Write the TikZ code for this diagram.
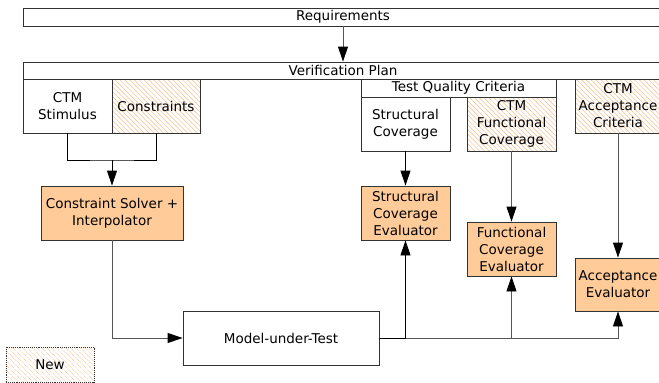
\documentclass[tikz,border=0pt]{standalone}
\usepackage{fontspec}
\setmainfont{DejaVu Sans}
\usetikzlibrary{arrows.meta,patterns.meta}
\definecolor{peach}{HTML}{FFCC99}
\definecolor{hatch}{HTML}{F4BE8C}
\definecolor{edge}{HTML}{333333}
\definecolor{wire}{HTML}{555555}
\tikzset{
  box/.style={draw=edge, line width=0.9pt, inner sep=0pt, align=center,
    font=\fontsize{13.5}{17}\selectfont},
  newbox/.style={box, pattern={Lines[angle=-45,distance=3.4pt,line width=0.5pt]},
    pattern color=hatch},
  toolbox/.style={box, fill=peach},
  conn/.style={draw=wire, line width=0.9pt},
  arr/.style={conn, -{Triangle[length=15pt,width=10pt,color=black]}},
}
\begin{document}
\begin{tikzpicture}[x=1pt,y=-1pt]
\fill[white] (0,0) rectangle (659,383);
\useasboundingbox (0,0) rectangle (659,383);
\clip (0,0) rectangle (659,383);

% plan bars
\node[box, minimum width=640, minimum height=18] (req) at (343,17) {Requirements};
\node[box, minimum width=640, minimum height=17] (vp) at (343,70.5) {Verification Plan};

% stimulus side
\node[box, minimum width=89, minimum height=54] (stim) at (67.5,106) {CTM\\Stimulus};
\node[newbox, minimum width=88, minimum height=54] (cons) at (156,106) {Constraints};
\node[toolbox, minimum width=142, minimum height=54] (solver) at (112,213) {Constraint Solver +\\Interpolator};
\node[box, minimum width=196, minimum height=54] (mut) at (281,338) {Model-under-Test};

% quality criteria
\node[box, minimum width=195, minimum height=18] (tqc) at (458.5,88) {Test Quality Criteria};
\node[box, minimum width=89, minimum height=54] (sc) at (405.5,124) {Structural\\Coverage};
\node[newbox, minimum width=89, minimum height=54] (fc) at (511.5,124) {CTM\\Functional\\Coverage};
\node[newbox, minimum width=86, minimum height=54] (ac) at (618,106) {CTM\\Acceptance\\Criteria};

% evaluators
\node[toolbox, minimum width=89, minimum height=54] (sce) at (405.5,213) {Structural\\Coverage\\Evaluator};
\node[toolbox, minimum width=89, minimum height=54] (fce) at (511.5,249) {Functional\\Coverage\\Evaluator};
\node[toolbox, minimum width=86, minimum height=53] (ae) at (618,284.5) {Acceptance\\Evaluator};

% legend
\node[newbox, draw=edge, densely dotted, minimum width=88, minimum height=35] (legend) at (50,364.5) {New};

% connectors
\draw[arr] (req.south) -- (vp.north);
\coordinate (mrg) at (112,160);
\draw[conn, draw=black] (stim.south) |- (mrg) -| (cons.south);
\draw[arr, draw=black] (mrg) -- (solver.north);
\draw[arr] (solver.south) |- (mut.west);
\draw[arr, draw=black] (sc.south) -- (sce.north);
\draw[arr] (fc.south) -- (fce.north);
\draw[arr] (ac.south) -- (ae.north);
\draw[arr] (mut.east) -| (ae.south);
\draw[arr, draw=black] (mut.east -| sce.south) -- (sce.south);
\draw[arr] (mut.east -| fce.south) -- (fce.south);
\draw[conn, draw=black] (mut.east) -- (mut.east -| sce.south);
\end{tikzpicture}
\end{document}
